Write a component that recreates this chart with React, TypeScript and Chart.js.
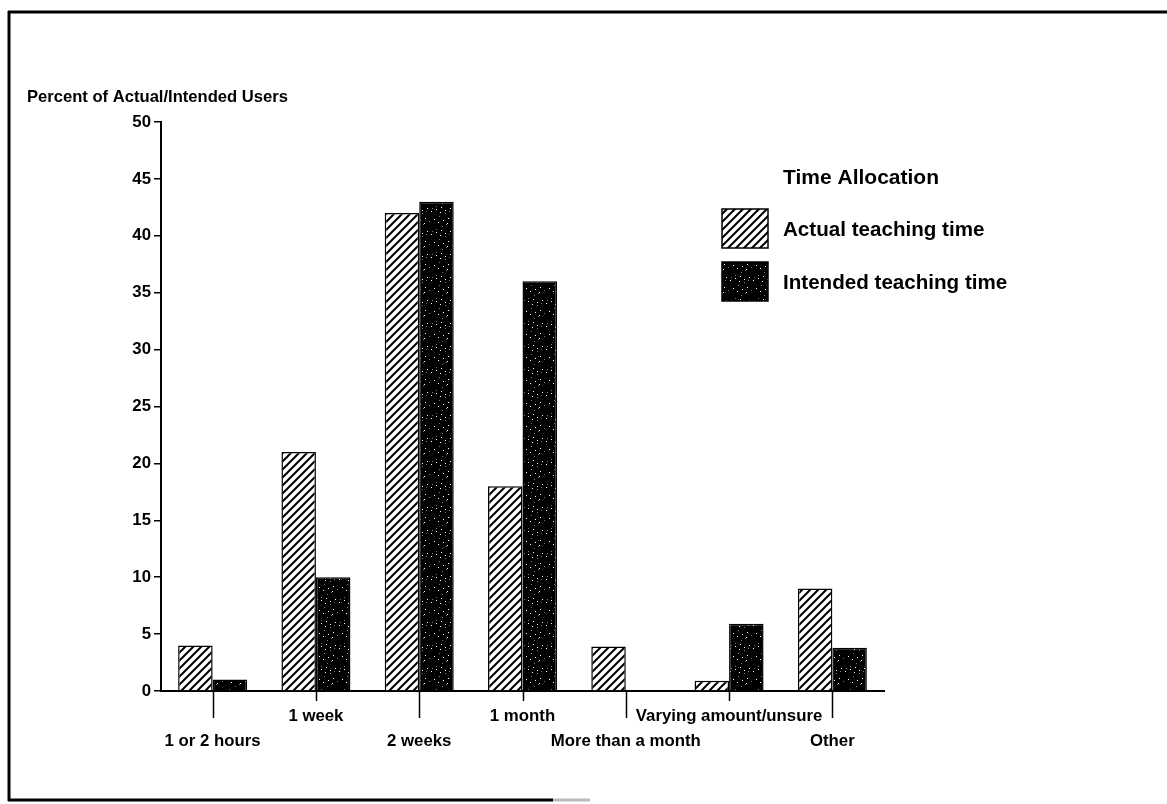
import React, { useEffect, useRef } from "react";
import { Chart, registerables } from "chart.js";

Chart.register(...registerables);

const categories = [
  "1 or 2 hours",
  "1 week",
  "2 weeks",
  "1 month",
  "More than a month",
  "Varying amount/unsure",
  "Other",
];
const actualTeaching = [4, 21, 42, 18, 3.9, 0.9, 9];
const intendedTeaching = [1, 10, 43, 36, 0, 5.9, 3.8];
const seriesLabels = ["Actual teaching time", "Intended teaching time"];
const legendTitle = "Time Allocation";
const yAxisTitle = "Percent of Actual/Intended Users";
const yMin = 0;
const yMax = 50;
const yStep = 5;

const FONT = '"Liberation Sans", Arial, Helvetica, sans-serif';

function makeHatch(): CanvasPattern | string {
  const s = 8;
  const c = document.createElement("canvas");
  c.width = s;
  c.height = s;
  const g = c.getContext("2d");
  if (!g) return "#fff";
  g.fillStyle = "#fff";
  g.fillRect(0, 0, s, s);
  g.strokeStyle = "#000";
  g.lineWidth = 2;
  g.beginPath();
  g.moveTo(-1, s + 1);
  g.lineTo(s + 1, -1);
  g.moveTo(-2, 2);
  g.lineTo(2, -2);
  g.moveTo(s - 2, s + 2);
  g.lineTo(s + 2, s - 2);
  g.stroke();
  return g.createPattern(c, "repeat") || "#fff";
}

function makeStipple(): CanvasPattern | string {
  const s = 23;
  const c = document.createElement("canvas");
  c.width = s;
  c.height = s;
  const g = c.getContext("2d");
  if (!g) return "#000";
  g.fillStyle = "#000";
  g.fillRect(0, 0, s, s);
  g.fillStyle = "#fff";
  // fixed texture dots
  for (let k = 0; k < 12; k++) {
    const x = (k * 7 + 3) % s;
    const y = (k * 11 + 5) % s;
    g.fillRect(x, y, 1, 1);
  }
  g.fillStyle = "#777";
  for (let k = 0; k < 8; k++) {
    const x = (k * 13 + 9) % s;
    const y = (k * 5 + 17) % s;
    g.fillRect(x, y, 1, 1);
  }
  return g.createPattern(c, "repeat") || "#000";
}

const framePlugin = {
  id: "frame",
  afterDraw(chart: any) {
    const ctx = chart.ctx;
    ctx.save();
    ctx.strokeStyle = "#000";
    ctx.lineWidth = 3;
    ctx.beginPath();
    ctx.moveTo(9, 11);
    ctx.lineTo(9, 801);
    ctx.moveTo(8, 12);
    ctx.lineTo(1167, 12);
    ctx.moveTo(8, 800);
    ctx.lineTo(553, 800);
    ctx.stroke();
    ctx.strokeStyle = "#bbb";
    ctx.beginPath();
    ctx.moveTo(553, 800);
    ctx.lineTo(590, 800);
    ctx.stroke();
    // y-axis title
    ctx.fillStyle = "#000";
    ctx.font = `bold 16.6px ${FONT}`;
    ctx.textBaseline = "middle";
    ctx.textAlign = "left";
    ctx.fillText(yAxisTitle, 27, 97);
    ctx.restore();
  },
};

const xTicksPlugin = {
  id: "xTicks",
  afterDraw(chart: any) {
    const ctx = chart.ctx;
    const xs = chart.scales.x;
    const b = chart.chartArea.bottom;
    ctx.save();
    ctx.strokeStyle = "#000";
    ctx.lineWidth = 1.5;
    ctx.beginPath();
    categories.forEach((_, i) => {
      const x = Math.round(xs.getPixelForValue(i)) + 0.5;
      const len = i % 2 === 0 ? 27 : 10;
      ctx.moveTo(x, b);
      ctx.lineTo(x, b + len);
    });
    ctx.stroke();
    ctx.restore();
  },
};

const legendPlugin = {
  id: "customLegend",
  afterDraw(chart: any) {
    const ctx = chart.ctx;
    ctx.save();
    ctx.fillStyle = "#000";
    ctx.textBaseline = "middle";
    ctx.textAlign = "left";
    ctx.font = `bold 21px ${FONT}`;
    ctx.fillText(legendTitle, 783, 178);
    ctx.font = `bold 20.6px ${FONT}`;
    chart.data.datasets.forEach((ds: any, i: number) => {
      const y = 209 + i * 53;
      ctx.fillStyle = ds.backgroundColor;
      ctx.fillRect(722, y, 46, 39);
      ctx.strokeStyle = "#000";
      ctx.lineWidth = 1.5;
      ctx.strokeRect(722, y, 46, 39);
      ctx.fillStyle = "#000";
      ctx.fillText(ds.label, 783, y + 21);
    });
    ctx.restore();
  },
};

export default function App() {
  const ref = useRef<HTMLCanvasElement | null>(null);

  useEffect(() => {
    if (!ref.current) return;
    const hatch = makeHatch();
    const stipple = makeStipple();
    const tickFont = { family: FONT, size: 16.8, weight: "bold" as const, lineHeight: 1.48 };
    const chart = new Chart(ref.current, {
      type: "bar",
      data: {
        labels: categories.map((c, i) => (i % 2 === 0 ? ["", c] : [c])),
        datasets: [
          {
            label: seriesLabels[0],
            data: actualTeaching,
            backgroundColor: hatch as any,
            borderColor: "#000",
            borderWidth: 1.5,
            categoryPercentage: 0.668,
            barPercentage: 1,
          },
          {
            label: seriesLabels[1],
            data: intendedTeaching,
            backgroundColor: stipple as any,
            borderColor: "#000",
            borderWidth: 1.5,
            categoryPercentage: 0.668,
            barPercentage: 1,
          },
        ],
      },
      options: {
        responsive: false,
        animation: false,
        devicePixelRatio: 1,
        layout: { padding: { left: 0, right: 283, top: 122, bottom: 0 } },
        plugins: {
          legend: { display: false },
          title: { display: false },
          tooltip: { enabled: false },
        },
        scales: {
          x: {
            type: "category",
            offset: true,
            grid: { display: true, drawOnChartArea: false, drawTicks: false },
            border: { display: true, color: "#000", width: 2 },
            ticks: {
              color: "#000",
              font: tickFont,
              padding: 13,
              autoSkip: false,
              maxRotation: 0,
              minRotation: 0,
            },
            afterFit: (s: any) => {
              s.height = 113;
            },
          },
          y: {
            min: yMin,
            max: yMax,
            ticks: {
              stepSize: yStep,
              color: "#000",
              font: { family: FONT, size: 16.8, weight: "bold" as const },
              padding: 3,
            },
            grid: {
              drawOnChartArea: false,
              drawTicks: true,
              tickLength: 7,
              color: "#000",
              lineWidth: 1.5,
            },
            border: { display: true, color: "#000", width: 2 },
            afterFit: (s: any) => {
              s.width = 161;
            },
          },
        },
      },
      plugins: [framePlugin, xTicksPlugin, legendPlugin],
    });
    return () => chart.destroy();
  }, []);

  return (
    <div style={{ position: "absolute", left: 0, top: 0, width: 1167, height: 804, background: "#fff" }}>
      <canvas ref={ref} width={1167} height={804} />
    </div>
  );
}
